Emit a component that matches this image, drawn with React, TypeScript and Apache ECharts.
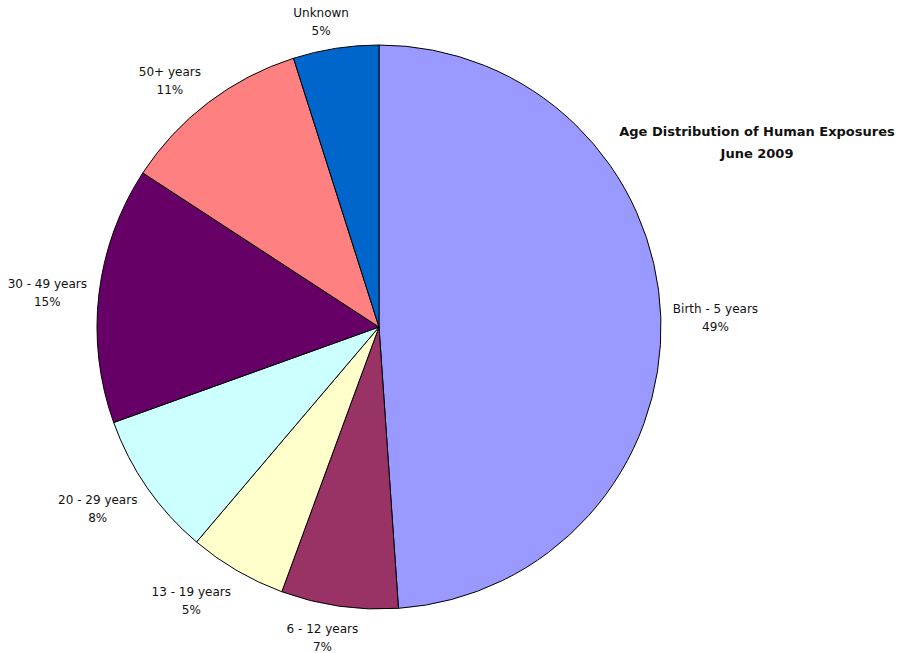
import React, { useEffect, useRef } from "react";
import * as echarts from "echarts";

const categories = [
  "Birth - 5 years",
  "6 - 12 years",
  "13 - 19 years",
  "20 - 29 years",
  "30 - 49 years",
  "50+ years",
  "Unknown",
];
const shares = [48.9, 6.7, 5.6, 8.3, 14.7, 10.9, 4.9];
const percentLabels = ["49%", "7%", "5%", "8%", "15%", "11%", "5%"];
const colors = ["#9999FF", "#993366", "#FFFFCC", "#CCFFFF", "#660066", "#FF8080", "#0066CC"];
const titleLines = ["Age Distribution of Human Exposures", "June 2009"];

const FONT = "'DejaVu Sans', Verdana, sans-serif";

const clamp = (v: number) => Math.max(-1, Math.min(1, v));

export default function App() {
  const ref = useRef<HTMLDivElement>(null);
  useEffect(() => {
    document.body.style.margin = "0";
    if (!ref.current) return;
    const chart = echarts.init(ref.current, undefined, { renderer: "svg" });
    const GAP = 12;
    chart.setOption({
      animation: false,
      backgroundColor: "#ffffff",
      title: {
        text: titleLines.join("\n"),
        left: 752,
        top: 115,
        textAlign: "center",
        textStyle: {
          fontFamily: FONT,
          fontSize: 13,
          fontWeight: "bold",
          color: "#111",
          lineHeight: 22,
        },
      },
      series: [
        {
          type: "pie",
          center: [379, 327],
          radius: 282,
          startAngle: 90,
          clockwise: true,
          avoidLabelOverlap: false,
          silent: true,
          emphasis: { disabled: true },
          data: categories.map((name, i) => ({
            name,
            value: shares[i],
            itemStyle: { color: colors[i] },
          })),
          itemStyle: { borderColor: "#000", borderWidth: 1 },
          label: {
            show: true,
            position: "outside",
            formatter: (p: any) => `${p.name}\n${percentLabels[p.dataIndex]}`,
            fontFamily: FONT,
            fontSize: 12,
            lineHeight: 18,
            color: "#111",
            align: "center",
          },
          labelLine: {
            show: true,
            length: 10,
            length2: 0,
            lineStyle: { opacity: 0, width: 0 },
          },
          labelLayout: (p: any) => {
            const pts = p.labelLinePoints;
            if (!pts || pts.length < 2) return {};
            const [x0, y0] = pts[0];
            const [x1, y1] = pts[1];
            let dx = x1 - x0;
            let dy = y1 - y0;
            const len = Math.hypot(dx, dy) || 1;
            dx /= len;
            dy /= len;
            const w = p.labelRect.width;
            const h = p.labelRect.height;
            const ax = clamp(3 * dx);
            const ay = dy > 0 ? clamp(1.2 * dy) : clamp(0.95 * dy);
            return {
              x: x0 + dx * GAP + (ax * w) / 2,
              y: y0 + dy * GAP + (ay * h) / 2 + 2,
              align: "center",
              verticalAlign: "middle",
            };
          },
        },
      ],
    });
    return () => chart.dispose();
  }, []);
  return <div ref={ref} style={{ width: 913, height: 653 }} />;
}
